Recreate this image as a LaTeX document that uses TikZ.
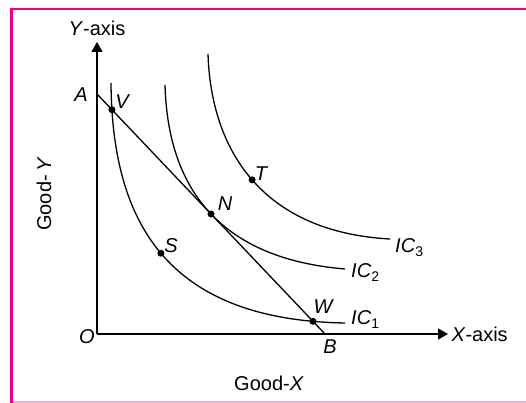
\documentclass[tikz,border=0pt]{standalone}
\usepackage{fontspec}
\setmainfont{Liberation Sans}
\usetikzlibrary{arrows.meta,positioning,intersections}
\definecolor{frameink}{HTML}{EC008C}
\definecolor{framesoft}{HTML}{F8AAD2}

\begin{document}
\begin{tikzpicture}[
  x=1pt, y=1pt,
  font=\fontsize{20}{24}\selectfont,
  axis/.style={-{Triangle[length=10pt,width=11pt]}, line width=1.4pt},
  curve/.style={line width=1.3pt},
  dot/.style={circle, fill, inner sep=0pt, minimum size=7pt},
  lbl/.style={font=\fontsize{20}{24}\selectfont\itshape, inner sep=1pt},
  iclbl/.style={inner sep=0pt, anchor=base west}
]
  \useasboundingbox (-97,-69) rectangle (429,334);
  % frame
  \draw[frameink, line width=2.4pt] (-85.5,-69) -- (-85.5,325) -- (429,325);
  \draw[framesoft, line width=1.5pt] (-84,-68) -- (429,-68);

  % axes
  \coordinate (O) at (0,0);
  \coordinate (ytip) at (0,292);
  \coordinate (xtip) at (351,0);
  \draw[axis] (O) -- (ytip);
  \draw[axis] (O) -- (xtip);
  \node[above=3pt of ytip] (ylab) {\textit{Y}-axis};
  \node[right=0pt of xtip] (xlab) {\textit{X}-axis};
  \node (goodx) at (172,-49) {Good-\textit{X}};
  \node[rotate=90] (goody) at (-53,140) {Good-\,\textit{Y}};
  \node[lbl] (olab) at (-10,-3) {O};

  % budget line
  \coordinate (A) at (0,240);
  \coordinate (B) at (228,0);
  \draw[curve, name path=ab] (A) -- (B);
  \node[lbl] (alab) at (-16,239) {A};
  \node[lbl] (blab) at (233,-13) {B};

  % indifference curves
  \draw[curve, name path=ic1] (14,251) .. controls (15,114) and (68,14) .. (248,11)
    coordinate[pos=0.5] (S);
  \draw[curve] (68,249) .. controls (71,140.2) and (127.7,75.1) .. (248,65)
    coordinate[pos=0.5] (N);
  \draw[curve] (111,280) .. controls (114,184) and (165,102) .. (293,95)
    coordinate[pos=0.5] (T);
  \path[name intersections={of=ic1 and ab, by={V,W}, sort by=ab}];

  \node[iclbl] (ic1) at (254,9) {\textit{IC}\textsubscript{1}};
  \node[iclbl] (ic2) at (254,56) {\textit{IC}\textsubscript{2}};
  \node[iclbl] (ic3) at (298,81) {\textit{IC}\textsubscript{3}};

  % points
  \foreach \p in {V,S,N,T,W}
    \node[dot] at (\p) {};
  \node[lbl] (vlab) at (25,232) {V};
  \node[lbl] (slab) at (74,88) {S};
  \node[lbl] (nlab) at (128,130) {N};
  \node[lbl] (tlab) at (164,160) {T};
  \node[lbl] (wlab) at (226,27) {W};
\end{tikzpicture}
\end{document}
